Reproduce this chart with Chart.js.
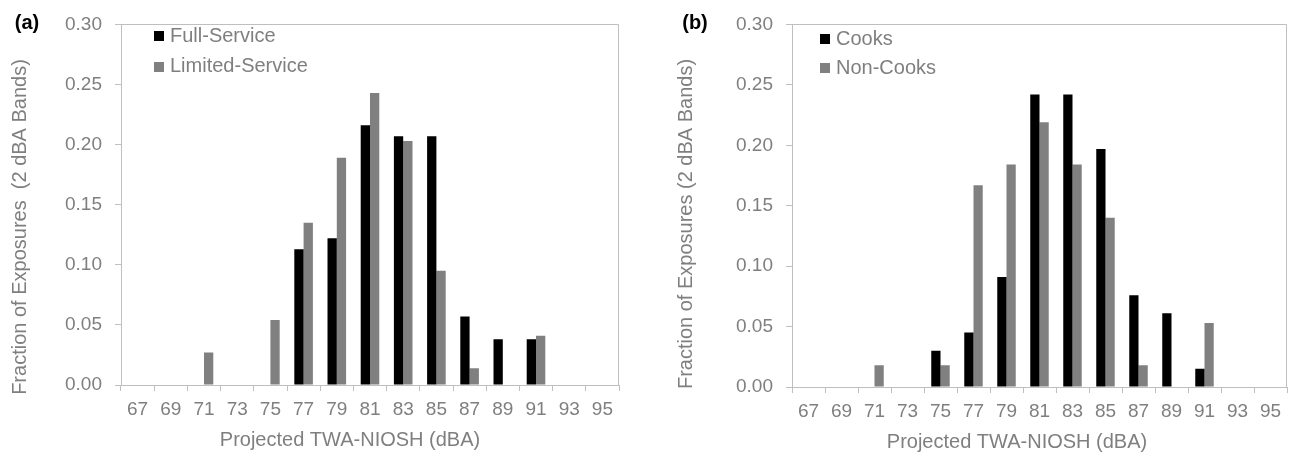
<!DOCTYPE html>
<html><head><meta charset="utf-8">
<script src="https://cdn.jsdelivr.net/npm/chart.js@4.4.1/dist/chart.umd.min.js"></script>
<style>
html,body{margin:0;padding:0;background:#fff;}
#wrap{position:relative;width:1298px;height:459px;overflow:hidden;}
.panel{position:absolute;top:0;width:649px;height:459px;}
canvas{display:block;}
</style></head><body>
<div id="wrap">
<div class="panel" style="left:0"><canvas id="cA" width="649" height="459"></canvas></div>
<div class="panel" style="left:649px"><canvas id="cB" width="649" height="459"></canvas></div>
</div>
<script>
// ---- data ----
const categories = ['67','69','71','73','75','77','79','81','83','85','87','89','91','93','95'];
const yTickValues = [0, 0.05, 0.10, 0.15, 0.20, 0.25, 0.30];
const fullService    = [0, 0, 0,     0, 0,     0.113, 0.122, 0.216, 0.207, 0.207, 0.057, 0.038, 0.038, 0, 0];
const limitedService = [0, 0, 0.027, 0, 0.054, 0.135, 0.189, 0.243, 0.203, 0.095, 0.014, 0,     0.041, 0, 0];
const cooks          = [0, 0, 0,     0, 0.030, 0.045, 0.091, 0.242, 0.242, 0.197, 0.076, 0.061, 0.015, 0, 0];
const nonCooks       = [0, 0, 0.018, 0, 0.018, 0.167, 0.184, 0.219, 0.184, 0.140, 0.018, 0,     0.053, 0, 0];

const TEXT = '#7f7f7f';
const AXIS = '#bfbfbf';
const BLACK = '#000000';
const GRAY = '#808080';
const FONT = "'Liberation Sans', Arial, sans-serif";

const decor = {
  id: 'decor',
  afterDraw(chart, args, o) {
    const {ctx, chartArea: a} = chart;
    ctx.save();
    // top and right frame lines
    ctx.strokeStyle = AXIS; ctx.lineWidth = 1;
    ctx.beginPath();
    ctx.moveTo(Math.round(a.left), Math.round(a.top) + 0.5);
    ctx.lineTo(Math.round(a.right) - 0.5, Math.round(a.top) + 0.5);
    ctx.lineTo(Math.round(a.right) - 0.5, Math.round(a.bottom));
    ctx.stroke();
    // legend
    ctx.font = '20px ' + FONT;
    ctx.textBaseline = 'middle'; ctx.textAlign = 'left';
    chart.data.datasets.forEach((ds, i) => {
      const y = o.legendY + i * o.legendDY;
      ctx.fillStyle = ds.backgroundColor;
      ctx.fillRect(o.legendX, Math.round(y - 5), 10, 10);
      ctx.fillStyle = TEXT;
      ctx.fillText(ds.label, o.legendX + 16, y);
    });
    // panel label
    ctx.fillStyle = '#000';
    ctx.font = 'bold 20px ' + FONT;
    ctx.textAlign = 'center';
    ctx.fillText(o.panel, o.panelX, o.panelY);
    // x title
    ctx.fillStyle = TEXT;
    ctx.font = '20px ' + FONT;
    ctx.fillText(o.xTitle, o.xTitleX, o.xTitleY);
    // y title
    ctx.translate(o.yTitleX, o.yTitleY);
    ctx.rotate(-Math.PI / 2);
    ctx.fillText(o.yTitle, 0, 0);
    ctx.restore();
  }
};

function makeChart(id, s1, s2, l1, l2, geo, deco) {
  return new Chart(document.getElementById(id), {
    type: 'bar',
    data: {
      labels: categories,
      datasets: [
        {label: l1, data: s1, backgroundColor: BLACK, borderWidth: 0},
        {label: l2, data: s2, backgroundColor: GRAY, borderWidth: 0}
      ]
    },
    options: {
      responsive: false,
      animation: false,
      devicePixelRatio: 1,
      categoryPercentage: 0.56,
      barPercentage: 1.0,
      layout: {padding: {left: 0, right: geo.right, top: 15, bottom: 0}},
      plugins: {legend: {display: false}, tooltip: {enabled: false}, decor: deco},
      scales: {
        x: {
          type: 'category',
          grid: {offset: true, drawOnChartArea: false, drawTicks: true, tickLength: 6, color: AXIS},
          border: {display: true, color: AXIS},
          ticks: {color: TEXT, font: {family: FONT, size: 19}, padding: 7, maxRotation: 0, autoSkip: false},
          afterFit: s => { s.height = geo.xh; }
        },
        y: {
          min: 0, max: 0.30,
          grid: {drawOnChartArea: false, drawTicks: true, tickLength: 6, color: AXIS},
          border: {display: true, color: AXIS},
          ticks: {color: TEXT, font: {family: FONT, size: 19}, padding: 13,
                  callback: v => Number(v).toFixed(2)},
          afterBuildTicks: s => { s.ticks = yTickValues.map(v => ({value: v})); },
          afterFit: s => { s.width = geo.yw; }
        }
      }
    },
    plugins: [decor]
  });
}

makeChart('cA', fullService, limitedService, 'Full-Service', 'Limited-Service',
  {right: 30, xh: 74, yw: 121},
  {panel: '(a)', panelX: 27, panelY: 23,
   legendX: 154, legendY: 36, legendDY: 30.7,
   xTitle: 'Projected TWA-NIOSH (dBA)', xTitleX: 350, xTitleY: 440,
   yTitle: 'Fraction of Exposures  (2 dBA Bands)', yTitleX: 20, yTitleY: 227});

makeChart('cB', cooks, nonCooks, 'Cooks', 'Non-Cooks',
  {right: 11, xh: 72, yw: 143},
  {panel: '(b)', panelX: 46, panelY: 23,
   legendX: 171, legendY: 39, legendDY: 29,
   xTitle: 'Projected TWA-NIOSH (dBA)', xTitleX: 368, xTitleY: 442,
   yTitle: 'Fraction of Exposures (2 dBA Bands)', yTitleX: 37, yTitleY: 224});
</script>
</body></html>
